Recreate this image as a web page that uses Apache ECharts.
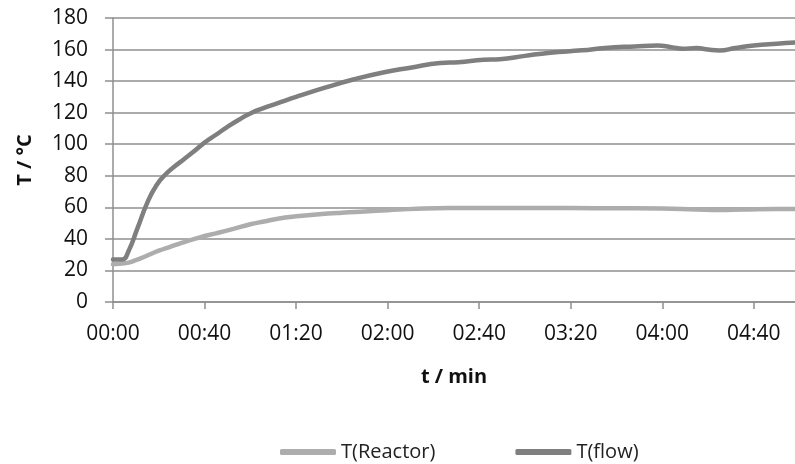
<!DOCTYPE html>
<html lang="en">
<head>
    <meta charset="UTF-8">
    <title>T(Reactor) / T(flow)</title>
    <script src="https://cdn.jsdelivr.net/npm/echarts@6/dist/echarts.min.js"></script>
    <style>
        html, body { margin: 0; padding: 0; background: #fff; }
        #chart { width: 795px; height: 464px; }
    </style>
</head>
<body>
<div id="chart"></div>
<script type="text/javascript">
    // time in minutes, temperature in °C
    var flowTime = [0, 4, 7, 10.5, 15, 19, 23, 27, 31, 35, 40, 45, 50, 55, 60, 66, 72, 80, 93, 105, 118, 130, 143, 151, 162, 169, 180, 191, 205, 215, 228, 238, 244, 249, 255, 260, 265, 272, 280, 290, 298];
    var flowTemp = [27, 27, 33, 46, 63, 74, 81, 86, 90.5, 95, 101, 106, 111, 115.5, 119.5, 123, 126, 130, 136, 141, 145.5, 148.5, 151.5, 152, 153.5, 153.8, 156, 158, 159.5, 161, 162, 162.6, 161.5, 160.5, 161, 160, 159.4, 161, 162.5, 163.7, 164.5];

    var reactorTime = [0, 5, 10, 15, 20, 25, 30, 38, 45, 53, 60, 66, 72, 80, 90, 100, 110, 120, 133, 147, 160, 180, 200, 220, 240, 255, 265, 275, 290, 298];
    var reactorTemp = [24, 24.5, 26.5, 29.5, 32.5, 35, 37.5, 41, 43.5, 46.5, 49.3, 51, 52.8, 54.3, 55.6, 56.6, 57.4, 58.2, 59.1, 59.5, 59.5, 59.5, 59.5, 59.4, 59.2, 58.6, 58.3, 58.6, 59, 59];

    var yMin = 0, yMax = 180, yStep = 20;
    var xMin = 0, xMax = 298, xStep = 40;

    function pairs(xs, ys) {
        var out = [];
        for (var i = 0; i < xs.length; i++) out.push([xs[i], ys[i]]);
        return out;
    }

    function hhmm(v) {
        var h = Math.floor(v / 60), m = Math.round(v % 60);
        return (h < 10 ? '0' : '') + h + ':' + (m < 10 ? '0' : '') + m;
    }

    var font = '"Open Sans", "Liberation Sans", sans-serif';
    var gridColor = '#8f8f8f';
    var reactorColor = '#adadad';
    var flowColor = '#7f7f7f';

    var chart = echarts.init(document.getElementById('chart'));
    chart.setOption({
        animation: false,
        textStyle: { fontFamily: font },
        grid: { left: 113, right: 0, top: 18, bottom: 162 },
        legend: {
            left: 275,
            top: 437,
            itemWidth: 56,
            itemHeight: 6,
            itemGap: 80,
            textStyle: { fontSize: 20, color: '#222', fontFamily: font },
            data: [
                { name: 'T(Reactor)', icon: 'roundRect', itemStyle: { color: reactorColor } },
                { name: 'T(flow)', icon: 'roundRect', itemStyle: { color: flowColor } }
            ]
        },
        xAxis: {
            type: 'value',
            min: xMin,
            max: xMax,
            interval: xStep,
            name: 't / min',
            nameLocation: 'middle',
            nameGap: 65,
            nameTextStyle: { fontSize: 20, fontWeight: 'bold', color: '#111', fontFamily: font },
            axisLine: { show: true, lineStyle: { color: gridColor, width: 1.5 } },
            axisTick: { show: true, length: 7, lineStyle: { color: gridColor, width: 1.5 } },
            axisLabel: { fontSize: 21, color: '#111', margin: 22, formatter: hhmm },
            splitLine: { show: false }
        },
        yAxis: {
            type: 'value',
            min: yMin,
            max: yMax,
            interval: yStep,
            name: 'T / °C',
            nameLocation: 'middle',
            nameGap: 78,
            nameRotate: 90,
            nameTextStyle: { fontSize: 20, fontWeight: 'bold', color: '#111', fontFamily: font },
            axisLine: { show: true, lineStyle: { color: gridColor, width: 1.5 } },
            axisTick: { show: true, length: 8, lineStyle: { color: gridColor, width: 1.5 } },
            axisLabel: { fontSize: 21, color: '#111', margin: 25 },
            splitLine: { show: true, lineStyle: { color: gridColor, width: 1.5 } }
        },
        series: [
            {
                name: 'T(Reactor)',
                type: 'line',
                smooth: true,
                symbol: 'none',
                color: reactorColor,
                lineStyle: { width: 4.5, color: reactorColor, cap: 'round' },
                data: pairs(reactorTime, reactorTemp)
            },
            {
                name: 'T(flow)',
                type: 'line',
                smooth: true,
                symbol: 'none',
                color: flowColor,
                lineStyle: { width: 4.5, color: flowColor, cap: 'round' },
                data: pairs(flowTime, flowTemp)
            }
        ]
    });
</script>
</body>
</html>
